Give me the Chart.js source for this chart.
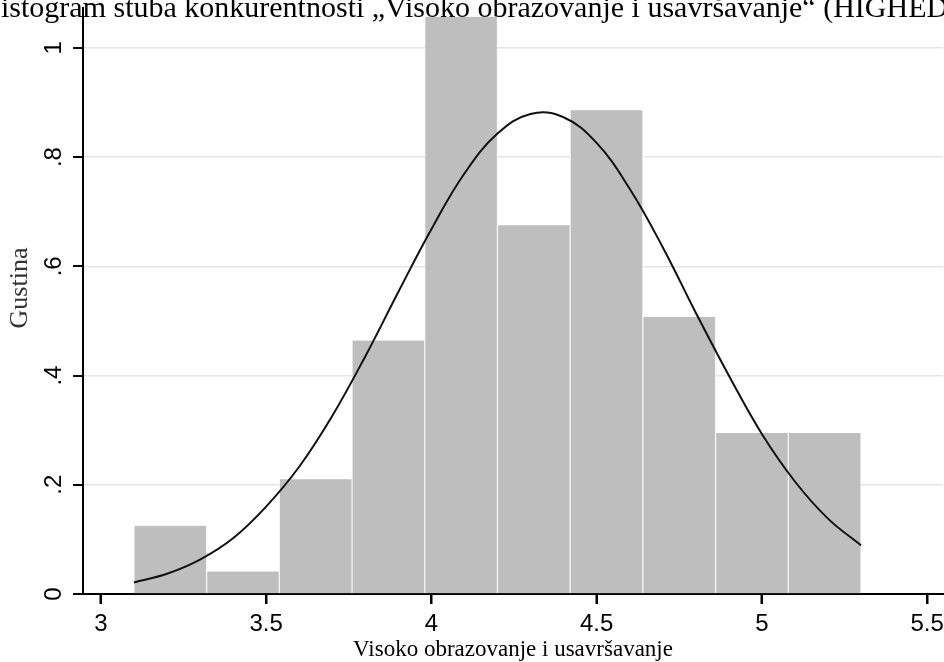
<!DOCTYPE html>
<html>
<head>
<meta charset="utf-8">
<script src="https://cdn.jsdelivr.net/npm/chart.js@4"></script>
<style>
  html, body { margin: 0; padding: 0; background: #fff; }
  #wrap { width: 944px; height: 662px; }
</style>
</head>
<body>
<div id="wrap"><canvas id="histChart" width="944" height="662"></canvas></div>
<script>
// --- data ---
const binEdges = [3.1, 3.32, 3.54, 3.76, 3.98, 4.2, 4.42, 4.64, 4.86, 5.08, 5.3];
const density = [0.125, 0.041, 0.210, 0.464, 1.057, 0.675, 0.886, 0.507, 0.295, 0.295];

// normal density overlay, sampled from the drawn curve
const curveX = [3.1, 3.2, 3.3, 3.4, 3.5, 3.6, 3.7, 3.8, 3.9, 4.0, 4.1, 4.2,
                4.3, 4.4, 4.5, 4.6, 4.7, 4.8, 4.9, 5.0, 5.1, 5.2, 5.3];
const curveY = [0.021, 0.037, 0.063, 0.102, 0.160, 0.233, 0.326, 0.435, 0.553, 0.668, 0.770, 0.843,
                0.879, 0.873, 0.826, 0.742, 0.635, 0.515, 0.400, 0.293, 0.206, 0.138, 0.089];

const xTicks = [3, 3.5, 4, 4.5, 5, 5.5];
const yTicks = [0, 0.2, 0.4, 0.6, 0.8, 1];
const yTickLabels = ["0", ".2", ".4", ".6", ".8", "1"];

const chartTitle = "Histogram stuba konkurentnosti \u201EVisoko obrazovanje i usavršavanje\u201C (HIGHED)";
const xTitle = "Visoko obrazovanje i usavršavanje";
const yTitle = "Gustina";

// bars go in at the bin midpoints
const barPoints = density.map((d, i) => ({ x: (binEdges[i] + binEdges[i + 1]) / 2, y: d }));
const curvePoints = curveX.map((x, i) => ({ x: x, y: curveY[i] }));

const whiteBg = {
  id: "whiteBg",
  beforeDraw(chart) {
    const ctx = chart.ctx;
    ctx.save();
    ctx.fillStyle = "#fff";
    ctx.fillRect(0, 0, chart.width, chart.height);
    ctx.restore();
  }
};

// tick marks, rotated y labels, axis titles and the clipped title line
const textBits = {
  id: "textBits",
  afterDraw(chart) {
    const ctx = chart.ctx;
    const xs = chart.scales.x;
    const ys = chart.scales.y;
    const area = chart.chartArea;

    ctx.save();
    ctx.fillStyle = "#000";
    xTicks.forEach(v => {
      const px = Math.round(xs.getPixelForValue(v));
      ctx.fillRect(px - 1, area.bottom, 2, 10);
    });
    yTicks.forEach(v => {
      const py = Math.round(ys.getPixelForValue(v));
      ctx.fillRect(area.left - 10, py - 1, 10, 2);
    });

    ctx.font = '24px "Liberation Sans", Arial, sans-serif';
    ctx.textAlign = "center";
    ctx.textBaseline = "middle";
    yTicks.forEach((v, i) => {
      const py = ys.getPixelForValue(v);
      ctx.save();
      ctx.translate(54, py);
      ctx.rotate(-Math.PI / 2);
      ctx.fillText(yTickLabels[i], 0, 0);
      ctx.restore();
    });

    ctx.fillStyle = "#333";
    ctx.font = '26px "Liberation Serif", "Times New Roman", serif';
    ctx.save();
    ctx.translate(20, 288);
    ctx.rotate(-Math.PI / 2);
    ctx.fillText(yTitle, 0, 0);
    ctx.restore();

    ctx.fillStyle = "#000";
    ctx.font = '23px "Liberation Serif", "Times New Roman", serif';
    ctx.textBaseline = "alphabetic";
    ctx.fillText(xTitle, (area.left + area.right) / 2, 656);

    ctx.font = '30px "Liberation Serif", "Times New Roman", serif';
    ctx.textAlign = "left";
    const hW = ctx.measureText("H").width;
    ctx.fillText(chartTitle, 1 - hW, 17);
    ctx.restore();
  }
};

const ctx = document.getElementById("histChart").getContext("2d");
new Chart(ctx, {
  type: "bar",
  data: {
    datasets: [
      {
        type: "line",
        data: curvePoints,
        borderColor: "#111",
        borderWidth: 2,
        pointRadius: 0,
        tension: 0.4,
        fill: false,
        order: 0
      },
      {
        type: "bar",
        data: barPoints,
        backgroundColor: "#bebebe",
        borderColor: "#f4f4f4",
        borderWidth: { left: 1, right: 1, top: 0, bottom: 0 },
        borderSkipped: false,
        barPercentage: 1,
        categoryPercentage: 1,
        order: 1
      }
    ]
  },
  options: {
    responsive: false,
    animation: false,
    devicePixelRatio: 1,
    layout: { padding: { left: 0, top: 8, right: 1, bottom: 0 } },
    plugins: {
      legend: { display: false },
      tooltip: { enabled: false },
      title: { display: false }
    },
    scales: {
      x: {
        type: "linear",
        offset: false,
        min: 2.946,
        max: 5.548,
        afterBuildTicks: (s) => { s.ticks = xTicks.map(v => ({ value: v })); },
        afterFit: (s) => { s.height = 68; s.paddingLeft = 0; s.paddingRight = 0; },
        border: { color: "#000", width: 2 },
        grid: {
          offset: false,
          drawOnChartArea: false,
          drawTicks: true,
          tickLength: 10,
          tickColor: "#000",
          tickWidth: 2
        },
        ticks: {
          color: "#000",
          font: { family: '"Liberation Sans", Arial, sans-serif', size: 24 },
          padding: 6,
          maxRotation: 0,
          minRotation: 0,
          callback: (v) => String(v)
        }
      },
      y: {
        type: "linear",
        min: 0,
        max: 1.073,
        afterBuildTicks: (s) => { s.ticks = yTicks.map(v => ({ value: v })); },
        afterFit: (s) => { s.width = 83; s.paddingTop = 0; s.paddingBottom = 0; },
        border: { color: "#000", width: 2 },
        grid: {
          color: "#e4e4e4",
          lineWidth: 1.5,
          drawTicks: false
        },
        ticks: { display: false }
      }
    }
  },
  plugins: [whiteBg, textBits]
});
</script>
</body>
</html>
